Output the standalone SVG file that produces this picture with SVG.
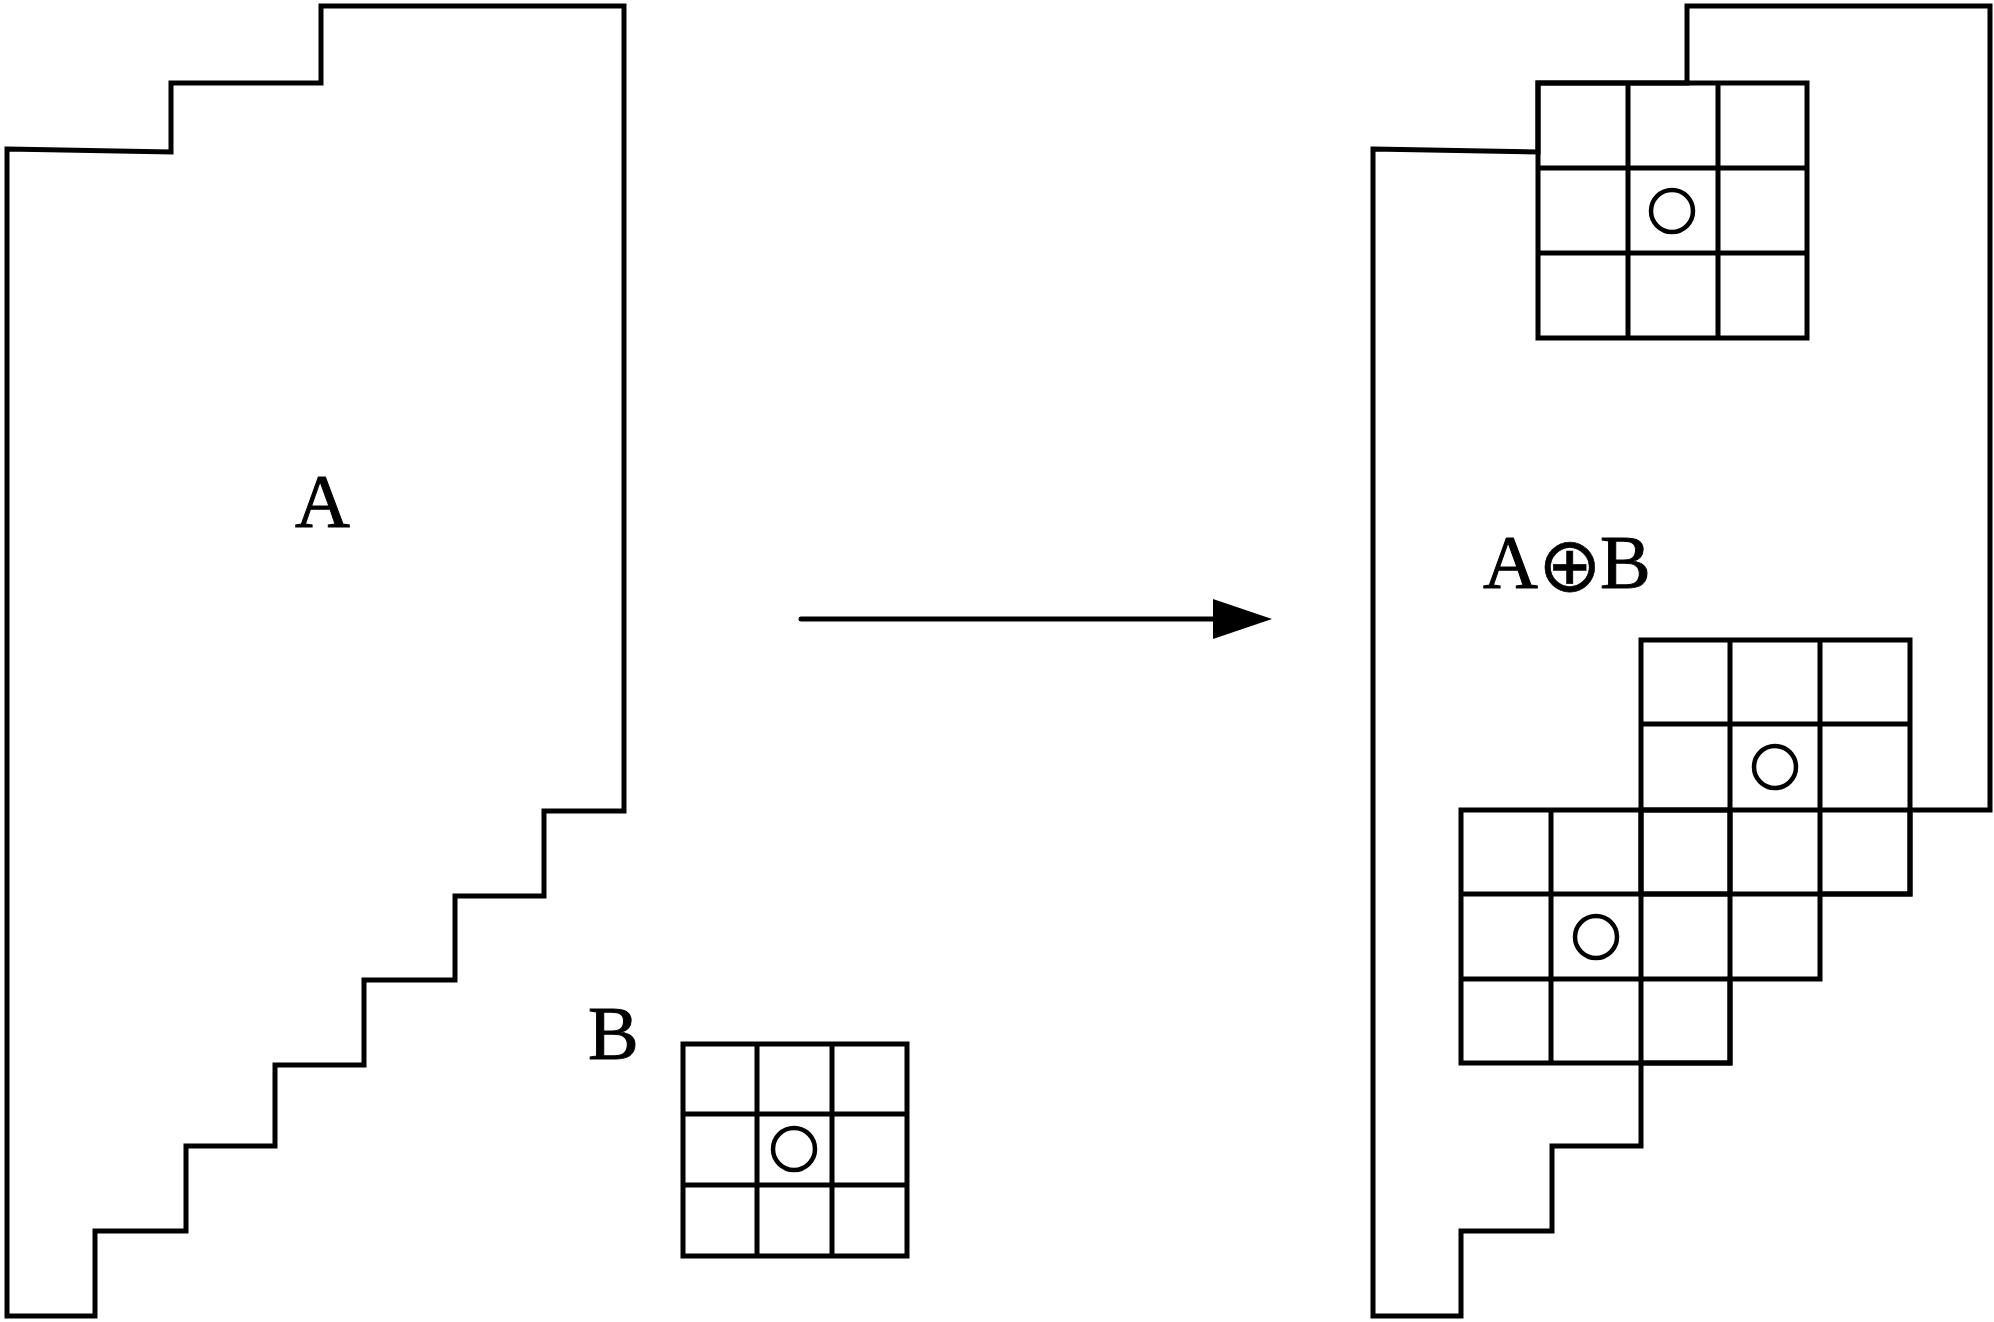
<svg xmlns="http://www.w3.org/2000/svg" width="1994" height="1322" viewBox="0 0 1994 1322">
<style>
.ln{fill:none;stroke:#000;stroke-width:5;stroke-linejoin:miter;stroke-linecap:square}
.gr{fill:none;stroke:#000;stroke-width:5;stroke-linecap:square}
.ct{fill:none;stroke:#000;stroke-width:4.5}
.lbl{font-family:"Liberation Serif","Times New Roman",serif;font-size:76px;fill:#000;stroke:#000;stroke-width:1}
</style>
<defs>
<marker id="ah" markerUnits="userSpaceOnUse" markerWidth="60" markerHeight="42" refX="0" refY="20" orient="auto">
<path d="M0,0 L59,20 L0,40 Z" fill="#000"/>
</marker>
</defs>
<rect width="1994" height="1322" fill="#fff"/>

<g id="shapeA">
<polygon class="ln" points="7,149 171,152 171,83 321,83 321,6 624,6 624,811 544,811 544,896 455,896 455,980 364,980 364,1065 275,1065 275,1146 186,1146 186,1231 95,1231 95,1316 7,1316"/>
<text class="lbl" x="295" y="527">A</text>
</g>

<g id="elementB">
<text class="lbl" x="588" y="1059">B</text>
<path class="gr" d="M683,1044 H907 V1256 H683 Z M757,1044 V1256 M832,1044 V1256 M683,1114 H907 M683,1185 H907"/>
<circle class="ct" cx="794" cy="1149" r="21"/>
</g>

<g id="connectors">
<line class="ln" x1="801" y1="619" x2="1213" y2="619" style="stroke-linecap:round" marker-end="url(#ah)"/>
</g>

<g id="dilation">
<polygon class="ln" points="1373,149 1538,152 1538,83 1687,83 1687,6 1990,6 1990,810 1910,810 1910,894 1820,894 1820,979 1730,979 1730,1063 1641,1063 1641,1146 1552,1146 1552,1231 1461,1231 1461,1316 1373,1316"/>
<path class="gr" d="M1538,83 H1807 V338 H1538 Z M1628,83 V338 M1718,83 V338 M1538,168 H1807 M1538,253 H1807"/>
<circle class="ct" cx="1672" cy="211" r="21"/>
<path class="gr" d="M1641,640 H1910 V894 H1641 Z M1730,640 V894 M1820,640 V894 M1641,724 H1910 M1641,810 H1910"/>
<circle class="ct" cx="1775" cy="767" r="21"/>
<path class="gr" d="M1461,810 H1730 V1063 H1461 Z M1551,810 V1063 M1641,810 V1063 M1461,894 H1730 M1461,979 H1730"/>
<circle class="ct" cx="1596" cy="937" r="21"/>
<text class="lbl" y="588"><tspan x="1483">A</tspan><tspan x="1538" dy="3" style="font-family:'DejaVu Sans',sans-serif;font-size:76px;stroke-width:0.6">⊕</tspan><tspan x="1600" dy="-3">B</tspan></text>
</g>
</svg>
